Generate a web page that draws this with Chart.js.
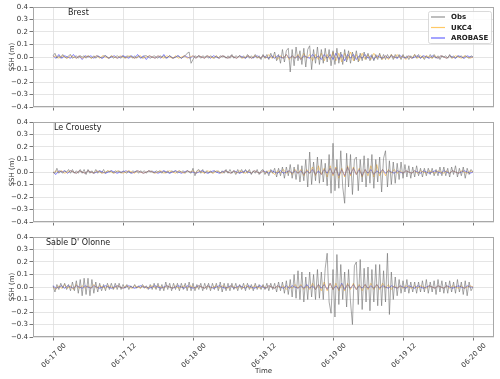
<!DOCTYPE html>
<html>
<head>
<meta charset="utf-8">
<script src="https://cdn.jsdelivr.net/npm/chart.js@4.4.0/dist/chart.umd.min.js"></script>
<style>
    body { margin: 0; background: #fff; }
    #wrap { position: relative; width: 500px; height: 379px; }
    canvas { position: absolute; left: 0; }
</style>
</head>
<body>
<div id="wrap">
    <canvas id="c0" width="500" height="115" style="top:0px"></canvas>
    <canvas id="c1" width="500" height="115" style="top:115px"></canvas>
    <canvas id="c2" width="500" height="149" style="top:230px"></canvas>
</div>
<script>
// ===================== Datos =====================
// eje x en horas desde 06-17 00
const tickHoras = [0, 12, 24, 36, 48, 60, 72];
const tickEtiquetas = ['06-17 00', '06-17 12', '06-18 00', '06-18 12', '06-19 00', '06-19 12', '06-20 00'];
const tickY = [-0.4, -0.3, -0.2, -0.1, 0, 0.1, 0.2, 0.3, 0.4];
const estaciones = ['Brest', 'Le Crouesty', "Sable D' Olonne"];
const series = ['Obs', 'UKC4', 'AROBASE'];
const pasoObs = 1 / 3;     // 20 min
const pasoModelo = 0.5;    // 30 min

// Obs, una fila por hora (3 valores)
const obsBrest = [
    .01,.03,-.01, .01,-.01,.02, 0,-.01,.01, .02,-.01,0, .01,-.01,.01, 0,.01,-.01,
    .01,0,-.01, .01,-.01,.01, 0,-.01,.01, .01,0,-.01, .01,-.01,0, .01,0,-.01,
    .01,-.01,.01, 0,.01,-.01, .01,-.01,.01, 0,-.01,.01, .01,0,-.01, 0,.01,0,
    -.01,.01,0, .01,-.01,0, .01,0,-.01, 0,.01,0, -.01,0,.01, .03,.04,-.05,
    -.02,.01,0, .01,-.01,.01, 0,.01,-.01, .01,0,-.01, .01,-.01,.01, 0,.01,-.01,
    .01,-.01,.02, -.01,.01,0, .01,-.01,.01, -.01,.02,-.01, .01,-.01,.02, -.01,.01,-.02,
    .02,-.01,.02, -.02,.03,-.01, .04,-.03,.02, -.05,.06,-.04, .05,.07,-.12, .06,-.07,.08,
    -.03,.05,-.06, .07,-.08,.06, .09,-.10,.06, -.05,.08,-.06, .06,-.05,.07, -.04,.06,-.07,
    .05,-.06,.07, -.05,.04,-.06, .06,-.04,.05, -.05,.04,-.03, .05,-.04,.03, -.03,.04,-.02,
    .03,-.03,.02, -.03,.02,-.02, .03,-.02,.02, -.02,.02,-.01, .02,-.02,.02, -.01,.02,-.02,
    .02,-.01,.01, -.02,.01,-.01, .02,-.01,.02, -.01,.01,-.02, .01,-.01,.02, -.01,.02,-.01,
    .01,-.02,.01, 0,.01,-.01, .02,-.01,.01, -.01,.01,0, .01,-.01,.01, 0,-.01,.01,
    0
];
const obsCrouesty = [
    0,-.01,.03, -.01,.01,-.01, .01,0,.02, -.01,.02,-.01, .01,-.01,.02, -.01,.02,-.02,
    .02,-.01,.01, -.01,.02,-.01, .01,-.01,.02, -.01,.01,0, .01,-.01,.01, 0,.01,-.01,
    .01,0,-.01, .01,-.01,.01, 0,.01,-.01, .01,0,.01, -.01,.01,0, .01,-.01,.01,
    0,.01,-.01, .01,-.01,.01, -.01,.01,0, .01,-.01,.01, 0,.01,-.01, .01,0,-.01,
    .03,-.03,.01, .02,-.01,.02, -.01,.01,-.01, .01,-.01,.01, 0,.01,-.01, .01,-.01,.02,
    -.01,.02,-.01, .01,-.02,.02, -.01,.02,-.01, .02,-.01,.02, -.02,.01,-.01, .02,-.02,.01,
    .02,-.02,.01, -.03,.02,-.01, .03,-.04,.03, -.03,.04,-.05, .04,-.03,.06, -.05,.04,-.06,
    .06,-.08,.05, -.07,.10,-.12, .16,-.10,.08, -.07,.12,-.09, .10,-.08,.07, -.11,.14,-.17,
    .23,-.15,.10, -.13,.17,-.12, -.25,.15,-.12, .14,-.18,.10, .12,-.15,.10, -.08,.13,-.12,
    .11,-.09,.14, -.13,.10,-.08, .12,-.16,.11, .17,-.12,.09, -.10,.08,-.09, .07,-.06,.08,
    -.05,.06,-.04, .05,-.05,.04, -.04,.05,-.03, .03,-.04,.03, -.03,.03,-.02, .03,-.03,.02,
    -.03,.04,-.03, .04,-.03,.03, -.04,.04,-.02, .05,-.04,.03, -.03,.04,-.05, .03,-.02,.02,
    0
];
const obsSable = [
    .01,-.04,.02, -.02,.03,-.01, .03,-.02,.02, -.03,.04,-.03, .05,-.05,.06, -.07,.07,-.06,
    .07,-.07,.06, -.05,.04,-.04, .03,-.03,.02, -.03,.03,-.02, .03,-.02,.03, -.02,.03,-.02,
    .02,-.01,.02, -.02,.01,-.01, .02,-.01,.01, -.01,.02,-.01, .01,-.02,.02, -.02,.03,-.02,
    .03,-.03,.02, -.03,.04,-.02, .03,-.03,.03, -.02,.03,-.03, .03,-.02,.03, -.03,.04,-.03,
    .03,-.03,.02, -.02,.03,-.03, .03,-.02,.03, -.03,.03,-.02, .03,-.03,.04, -.04,.03,-.03,
    .03,-.03,.03, -.02,.03,-.03, .02,-.02,.03, -.03,.03,-.02, .02,-.03,.03, -.02,.02,-.02,
    .02,-.02,.03, -.03,.03,-.02, .03,-.04,.04, -.03,.04,-.05, .05,-.06,.06, -.08,.10,-.09,
    .13,-.10,.12, -.12,.08,-.10, .12,-.08,.10, -.10,.14,-.09, .12,-.10,.15, .27,-.12,-.21,
    .14,-.24,.26, -.14,.18,-.10, .12,-.16,.14, -.12,-.30,.17, .20,-.14,.22, -.18,.15,-.12,
    .16,-.19,.14, -.12,.18,-.15, .18,-.15,.13, -.12,.27,-.22, .12,-.10,.08, -.07,.06,-.05,
    .05,-.04,.06, -.05,.04,-.04, .04,-.05,.04, -.04,.05,-.04, .06,-.05,.04, -.04,.05,-.06,
    .06,-.04,.05, -.05,.04,-.05, .05,-.04,.04, -.05,.06,-.04, .04,-.06,.05, -.07,.04,-.03,
    0
];

// Modelos, una fila cada 6 horas (12 valores)
const ukc4Brest = [
    0,.01,-.01,.01,0,-.01,.01,0,-.01,.01,-.01,0,
    .01,-.01,0,.01,-.01,.01,0,-.01,.01,0,-.01,.01,
    0,-.01,.01,0,-.01,0,.01,-.01,0,.01,0,-.01,
    .01,0,-.01,.01,0,-.01,.01,-.01,0,.01,-.01,0,
    .01,-.01,.01,0,-.01,.01,0,-.01,.01,-.01,.01,0,
    -.01,.01,0,-.01,.01,-.01,0,.01,-.01,.01,0,-.01,
    .01,-.01,.02,-.01,.01,-.02,.01,-.01,.02,-.02,.01,-.01,
    .02,-.02,.03,-.01,.02,-.03,.02,-.02,.03,-.03,.02,-.02,
    .04,-.03,.03,-.04,.03,-.02,.04,-.03,.02,-.03,.03,-.02,
    .02,-.02,.03,-.01,.02,-.02,.01,-.02,.02,-.01,.02,-.01,
    .01,-.02,.01,-.01,.02,-.01,.01,-.01,.01,0,-.01,.01,
    -.01,.01,0,-.01,.01,-.01,.01,0,-.01,.01,0,-.01,
    0
];
const arobaseBrest = [
    .01,-.01,.02,-.01,.01,0,-.01,.02,-.01,.01,-.02,.01,
    0,.01,-.01,.01,0,-.01,.01,-.01,0,.01,-.01,0,
    .01,0,-.01,.01,-.01,.02,-.01,.01,-.02,.01,0,-.01,
    .01,-.01,.02,-.01,.01,-.01,0,.01,-.01,.01,0,-.01,
    .01,-.01,.01,0,-.01,.01,-.01,.01,0,-.01,.01,0,
    -.01,.01,0,-.01,.01,0,-.01,.01,-.01,0,.01,-.01,
    .01,0,-.01,.01,-.01,.01,0,-.01,.02,-.01,.01,-.01,
    .01,-.02,.01,0,-.01,.02,-.01,.01,-.02,.02,-.01,.02,
    -.02,.03,-.02,.02,-.03,.02,-.01,.02,-.02,.01,-.01,.02,
    -.01,.01,-.02,.01,0,-.01,.01,-.01,.01,0,-.01,.01,
    0,-.01,.01,-.01,0,.01,-.01,.01,0,-.01,.01,0,
    -.01,.01,0,-.01,.01,0,-.01,.01,0,-.01,.01,0,
    0
];
const ukc4Crouesty = [
    -.01,.01,0,.01,-.01,0,.01,0,-.01,.01,0,-.01,
    .01,0,-.01,.01,0,-.01,0,.01,0,-.01,.01,0,
    -.01,0,.01,0,-.01,.01,0,-.01,0,.01,0,-.01,
    0,.01,-.01,0,.01,0,-.01,.01,0,-.01,.01,0,
    .01,-.01,.01,0,-.01,.01,0,-.01,.01,0,-.01,.01,
    0,-.01,.01,-.01,.01,0,-.01,.01,-.01,.01,0,-.01,
    .01,-.01,.01,0,-.02,.01,-.01,.02,-.01,.01,-.02,.02,
    -.01,.02,-.03,.02,-.01,.04,-.03,.05,-.02,.03,-.04,.05,
    -.03,.04,-.05,.03,-.04,.05,-.03,.04,-.02,.03,-.04,.02,
    -.03,.05,-.04,.06,-.03,.02,-.03,.02,-.01,.02,-.01,.01,
    -.01,.01,0,-.01,.01,-.01,.01,0,-.01,.01,0,-.01,
    .01,0,-.01,.01,-.01,.01,0,-.01,.01,0,-.01,.01,
    0
];
const arobaseCrouesty = [
    0,-.02,.01,0,.01,-.01,.01,0,-.01,.01,0,-.01,
    .01,0,-.01,0,.01,0,-.01,0,.01,0,-.01,0,
    0,.01,0,-.01,0,.01,0,-.01,0,.01,0,0,
    -.01,0,.01,0,-.01,0,.01,0,-.01,0,.01,0,
    0,-.01,0,.01,0,-.01,0,.01,0,-.01,0,.01,
    0,-.01,.01,0,-.01,0,.01,0,-.01,.01,0,-.01,
    .01,0,-.01,.01,0,-.01,.01,-.01,0,.01,-.01,.01,
    -.01,.01,-.02,.01,-.01,.02,-.02,.01,-.02,.02,-.01,.03,
    -.02,.03,-.03,.02,-.03,.04,-.02,.03,-.02,.02,-.03,.02,
    -.01,.02,-.02,.01,-.01,.02,-.01,.01,0,-.01,.01,0,
    -.01,.01,0,-.01,.01,0,-.01,.01,0,-.01,0,.01,
    0,-.01,.01,0,-.01,.01,0,-.01,0,.01,0,-.01,
    0
];
const ukc4Sable = [
    0,-.02,.01,-.01,.02,-.01,.01,-.02,.02,-.01,.01,-.01,
    .01,-.01,.02,-.01,.01,0,-.01,.01,0,-.01,.01,0,
    -.01,.01,0,-.01,.01,0,-.01,.01,-.01,0,.01,-.01,
    .01,0,-.01,.01,0,-.01,.01,-.01,0,.01,-.01,.01,
    0,-.01,.01,0,-.01,.01,-.01,0,.01,-.01,.01,0,
    -.01,.01,0,-.01,.01,-.01,.01,0,-.01,.01,0,-.01,
    .01,-.01,.01,0,-.01,.01,-.01,.01,-.02,.01,-.01,.02,
    -.01,.02,-.02,.01,-.02,.03,-.02,.02,-.03,.04,-.03,.03,
    -.02,.03,-.03,.02,-.03,.03,-.02,.03,-.02,.02,-.03,.02,
    -.02,.03,-.02,.02,-.02,.03,-.01,.02,-.02,.01,-.01,.01,
    -.01,.01,0,-.01,.01,-.01,.01,0,-.01,.01,0,-.01,
    .01,0,-.01,.01,-.01,.01,0,-.01,.01,-.01,0,.01,
    0
];
const arobaseSable = [
    .01,-.01,0,.01,-.01,.01,0,-.01,.01,0,-.01,.01,
    0,-.01,.01,0,-.01,0,.01,0,-.01,0,.01,0,
    -.01,0,.01,0,-.01,0,.01,0,0,-.01,0,.01,
    0,-.01,0,.01,0,-.01,0,.01,0,-.01,.01,0,
    -.01,0,.01,0,-.01,.01,0,-.01,0,.01,0,-.01,
    0,.01,-.01,0,.01,0,-.01,.01,0,-.01,0,.01,
    0,-.01,.01,0,-.01,.01,0,-.01,.01,-.01,.01,0,
    -.01,.01,-.01,.02,-.01,.01,-.02,.02,-.01,.02,-.02,.03,
    -.02,.01,-.02,.03,-.02,.02,-.01,.02,-.02,.01,-.01,.02,
    -.01,.01,-.01,.02,-.01,.01,0,-.01,.01,0,-.01,.01,
    0,-.01,.01,0,-.01,.01,0,-.01,0,.01,0,-.01,
    .01,0,-.01,.01,0,-.01,0,.01,0,-.01,.01,0,
    0
];

// ===================== Estilo =====================
const fuente = "'DejaVu Sans', sans-serif";
const colorObs = 'rgba(110, 110, 110, 0.75)';
const colorUkc4 = 'rgba(255, 165, 0, 0.6)';
const colorArobase = 'rgba(0, 0, 255, 0.6)';
const colorGrid = '#dedede';
const colorTexto = '#333';

// extremos del eje x (horas) para que el área quede como la del original
const xMin = -3.43;
const xMax = 75.6;

function aPuntos(valores, paso) {
    return valores.map((v, i) => ({ x: i * paso, y: v }));
}

function formatoY(v) {
    return (Math.round(v * 10) / 10).toFixed(1).replace('-', '\u2212');
}

// marco, nombre de estación y leyenda
const titulosX = [68, 54, 46];
const pluginPanel = {
    id: 'panel',
    afterDraw(chart) {
        const ctx = chart.ctx;
        const a = chart.chartArea;
        const idx = chart.options.plugins.panel.idx;
        ctx.save();
        ctx.strokeStyle = '#a8a8a8';
        ctx.lineWidth = 1;
        ctx.strokeRect(a.left + 0.5, a.top + 0.5, a.right - a.left - 1, a.bottom - a.top - 1);

        ctx.fillStyle = '#222';
        ctx.font = "8px " + fuente;
        ctx.textBaseline = 'middle';
        ctx.fillText(estaciones[idx], titulosX[idx], a.top + 6);

        if (idx === 0) {
            const bx = 428, by = 11, bw = 63, bh = 32;
            ctx.fillStyle = 'rgba(255,255,255,0.85)';
            ctx.strokeStyle = '#d0d0d0';
            ctx.lineWidth = 0.8;
            ctx.beginPath();
            ctx.roundRect(bx + 0.5, by + 0.5, bw, bh, 2);
            ctx.fill();
            ctx.stroke();
            const colores = [colorObs, colorUkc4, colorArobase];
            ctx.font = "bold 7px " + fuente;
            series.forEach((s, k) => {
                const yy = by + 6 + k * 10.5;
                ctx.strokeStyle = colores[k];
                ctx.lineWidth = 1.2;
                ctx.beginPath();
                ctx.moveTo(bx + 3, yy);
                ctx.lineTo(bx + 17, yy);
                ctx.stroke();
                ctx.fillStyle = '#222';
                ctx.fillText(s, bx + 23, yy + 0.5);
            });
        }
        ctx.restore();
    }
};

function crearPanel(idx, obs, ukc4, arobase) {
    const ultimo = idx === 2;
    return new Chart(document.getElementById('c' + idx), {
        type: 'line',
        data: {
            datasets: [
                { label: series[0], data: aPuntos(obs, pasoObs), borderColor: colorObs, borderWidth: 0.8 },
                { label: series[1], data: aPuntos(ukc4, pasoModelo), borderColor: colorUkc4, borderWidth: 0.8 },
                { label: series[2], data: aPuntos(arobase, pasoModelo), borderColor: colorArobase, borderWidth: 0.8 }
            ]
        },
        options: {
            responsive: false,
            animation: false,
            devicePixelRatio: 1,
            layout: { padding: { top: 7, right: 6, left: 0, bottom: 0 } },
            elements: { point: { radius: 0 }, line: { tension: 0 } },
            plugins: {
                legend: { display: false },
                tooltip: { enabled: false },
                panel: { idx: idx }
            },
            scales: {
                x: {
                    type: 'linear',
                    min: xMin,
                    max: xMax,
                    afterBuildTicks: s => { s.ticks = tickHoras.map(v => ({ value: v })); },
                    afterFit: s => { s.height = ultimo ? 42 : 8; },
                    grid: { color: colorGrid, tickColor: '#555', tickLength: 3.5, lineWidth: 0.8 },
                    border: { display: false },
                    ticks: {
                        display: ultimo,
                        autoSkip: false,
                        minRotation: 45,
                        maxRotation: 45,
                        padding: 1,
                        labelOffset: 12,
                        color: colorTexto,
                        font: { family: fuente, size: 7 },
                        callback: v => tickEtiquetas[tickHoras.indexOf(v)] ?? ''
                    },
                    title: {
                        display: ultimo,
                        text: 'Time',
                        color: colorTexto,
                        font: { family: fuente, size: 7 },
                        padding: { top: 0, bottom: 4 }
                    }
                },
                y: {
                    min: -0.4,
                    max: 0.4,
                    afterBuildTicks: s => { s.ticks = tickY.map(v => ({ value: v })); },
                    afterFit: s => { s.width = 33; },
                    grid: { color: colorGrid, tickColor: '#555', tickLength: 3.5, lineWidth: 0.8 },
                    border: { display: false },
                    ticks: {
                        padding: 1.5,
                        color: colorTexto,
                        font: { family: fuente, size: 7 },
                        callback: v => formatoY(v)
                    },
                    title: {
                        display: true,
                        text: 'SSH (m)',
                        color: colorTexto,
                        font: { family: fuente, size: 7 },
                        padding: { top: 8, bottom: 0 }
                    }
                }
            }
        },
        plugins: [pluginPanel]
    });
}

crearPanel(0, obsBrest, ukc4Brest, arobaseBrest);
crearPanel(1, obsCrouesty, ukc4Crouesty, arobaseCrouesty);
crearPanel(2, obsSable, ukc4Sable, arobaseSable);
</script>
</body>
</html>
